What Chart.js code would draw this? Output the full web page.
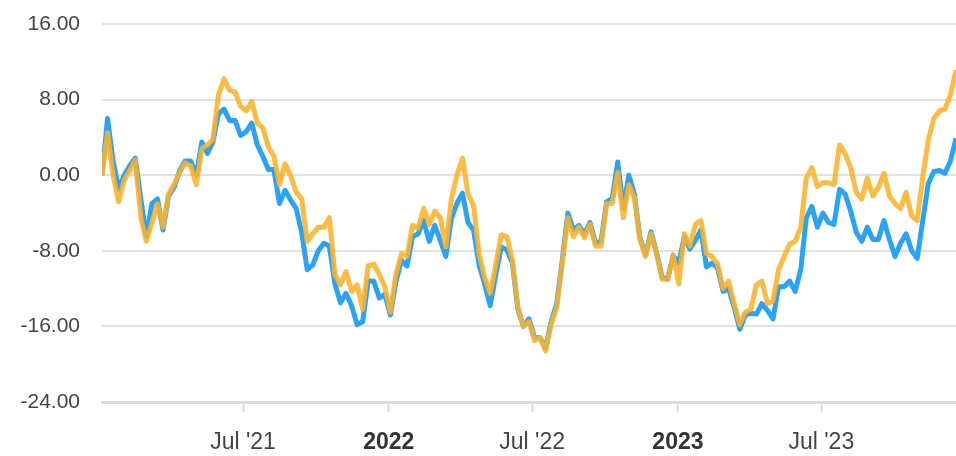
<!DOCTYPE html>
<html>
<head>
<meta charset="utf-8">
<script src="https://cdn.jsdelivr.net/npm/chart.js@4.4.1/dist/chart.umd.min.js"></script>
<style>
  html, body { margin: 0; padding: 0; background: #fff; }
  #wrap { width: 956px; height: 456px; position: relative; }
</style>
</head>
<body>
<div id="wrap"><canvas id="chart"></canvas></div>
<script>
// Weekly points, first Monday of 2021 up to mid-December 2023
const startDate = '2021-01-04';
const weekCount = 155;

// Series values
const blueValues = [
  0, 6.0, 1.5, -1.5, 0, 1, 1.8, -2.5, -6.5, -3,
  -2.5, -5.8, -2.2, -1.3, 0.5, 1.5, 1.5, 0, 3.5, 2.3,
  3.5, 6.5, 7.0, 5.8, 5.8, 4.2, 4.6, 5.5, 3.2, 2,
  0.6, 0.6, -3, -1.6, -2.6, -3.5, -6, -10, -9.5, -8,
  -7.2, -7.5, -11.5, -13.5, -12.5, -13.8, -15.8, -15.5, -11.2, -11.2,
  -13, -12.6, -14.8, -11.3, -9, -9.6, -6.5, -6.2, -4.8, -7,
  -5.3, -6.9, -8.6, -4.6, -3, -1.9, -5, -5.8, -9.5, -11.5,
  -13.8, -10.6, -7.6, -7.9, -9.3, -14.2, -16, -15.2, -17.2, -17.2,
  -18.3, -15.5, -13.6, -9, -4, -5.8, -5.3, -6.2, -5, -7.2,
  -7, -2.8, -2.5, 1.4, -3.5, 0, -2, -6.6, -8.4, -6,
  -8.2, -10.8, -11, -8.5, -9.3, -6.5, -7.8, -6.9, -5.8, -9.7,
  -9.3, -9.8, -12.3, -12, -14, -16.3, -14.8, -14.6, -14.7, -13.6,
  -14.3, -15.2, -11.8, -11.8, -11.2, -12.3, -10, -4.5, -3.3, -5.5,
  -4, -5, -5.2, -1.5, -2, -3.8, -6, -7, -5.5, -6.8,
  -6.8, -4.8, -6.8, -8.6, -7.2, -6.2, -8, -8.8, -4.8, -0.9,
  0.4, 0.5, 0.2, 1.5, 3.9
];

const orangeValues = [
  0, 4.5, 0, -2.8, -0.5, 0.5, 1.6, -4.5, -7.0, -5,
  -3, -5.5, -2, -1, 0.3, 1.3, 1.0, -1, 2.8, 3.2,
  3.8, 8.5, 10.2, 9.0, 8.8, 7.3, 6.8, 7.8, 5.5, 5,
  3, 2, -1, 1.2, 0, -1.8, -2.5, -7, -6.2, -5.5,
  -5.5, -4.5, -10.5, -11.6, -10.2, -12.3, -11.6, -14.2, -9.6, -9.4,
  -10.5, -11.8, -14.5, -10.5, -8.3, -8.6, -5.3, -5.6, -3.5, -5.2,
  -3.8, -4.5, -7.6, -2.5, 0, 1.8, -2, -3.2, -8.3, -10.8,
  -12.5, -9.5, -6.3, -6.5, -9, -14, -16, -15.5, -17.5, -17.2,
  -18.6, -15.7, -14, -9.3, -4.5, -6.5, -5.5, -6.6, -5.2, -7.5,
  -7.5, -3, -3, 0.3, -4.5, -1, -2.4, -6.8, -8.6, -6.2,
  -8.3, -11, -11, -8.4, -11.5, -6.2, -7.5, -5.2, -4.8, -8.3,
  -8.6, -9.4, -12, -11.2, -13.6, -15.8, -14.5, -14.2, -11.6, -11.2,
  -13.6, -13.3, -10, -8.6, -7.3, -7, -5.5, -0.3, 0.8, -1.2,
  -0.8, -0.8, -1, 3.2, 2.3, 0.8, -1.8, -2.5, -0.3, -2.2,
  -1.3, 0.2, -2.2, -3, -3.5, -1.8, -4.3, -4.8, -0.2, 3.7,
  6, 6.8, 7, 8.5, 11.1
];

// Axis ticks
const tickDates = ['2021-07-01', '2022-01-01', '2022-07-01', '2023-01-01', '2023-07-01'];
const tickLabels = ["Jul '21", '2022', "Jul '22", '2023', "Jul '23"];
const boldTicks = ['2022', '2023'];
const yTicks = [-24, -16, -8, 0, 8, 16];

const DAY = 86400000;
const toTime = s => Date.parse(s + 'T00:00:00Z');

const weekDates = [];
for (let i = 0; i < weekCount; i++) {
    weekDates.push(toTime(startDate) + i * 7 * DAY);
}

const bluePoints = weekDates.map((t, i) => ({ x: t, y: blueValues[i] }));
const orangePoints = weekDates.map((t, i) => ({ x: t, y: orangeValues[i] }));
const tickTimes = tickDates.map(toTime);

const fontFamily = "'Liberation Sans', Arial, sans-serif";

new Chart(document.getElementById('chart'), {
    type: 'line',
    data: {
        datasets: [
            {
                data: bluePoints,
                borderColor: '#29a3f5',
                borderWidth: 5,
                pointRadius: 0,
                tension: 0,
                borderJoinStyle: 'round',
                order: 1 // drawn underneath the orange line
            },
            {
                data: orangePoints,
                borderColor: 'rgba(253, 178, 40, 0.88)',
                borderWidth: 5,
                pointRadius: 0,
                tension: 0,
                borderJoinStyle: 'round',
                order: 0
            }
        ]
    },
    options: {
        responsive: true,
        maintainAspectRatio: false,
        animation: false,
        layout: { padding: { top: 24, right: 0, left: 0, bottom: 0 } },
        plugins: {
            legend: { display: false },
            tooltip: { enabled: false }
        },
        scales: {
            x: {
                type: 'linear',
                min: weekDates[0],
                max: weekDates[weekDates.length - 1],
                afterBuildTicks: scale => {
                    scale.ticks = tickTimes.map(v => ({ value: v }));
                },
                afterFit: scale => {
                    scale.height = 54;
                    scale.paddingLeft = 0;
                    scale.paddingRight = 0;
                },
                grid: {
                    drawOnChartArea: false,
                    drawTicks: true,
                    tickLength: 10,
                    tickColor: '#dcdcdc',
                    tickWidth: 2
                },
                border: { display: true, color: '#dcdcdc', width: 3 },
                ticks: {
                    autoSkip: false,
                    maxRotation: 0,
                    padding: 17,
                    color: ctx => boldTicks.includes(tickLabels[ctx.index]) ? '#333' : '#444',
                    font: ctx => ({
                        family: fontFamily,
                        size: 23,
                        weight: boldTicks.includes(tickLabels[ctx.index]) ? 'bold' : 'normal'
                    }),
                    callback: (value, index) => tickLabels[index]
                }
            },
            y: {
                min: -24,
                max: 16,
                afterBuildTicks: scale => {
                    scale.ticks = yTicks.map(v => ({ value: v }));
                },
                afterFit: scale => {
                    scale.width = 102;
                    scale.paddingTop = 0;
                    scale.paddingBottom = 0;
                },
                grid: {
                    color: '#e2e2e2',
                    lineWidth: 2,
                    drawTicks: false
                },
                border: { display: false },
                ticks: {
                    padding: 22,
                    color: '#444',
                    font: { family: fontFamily, size: 21 },
                    callback: v => v.toFixed(2)
                }
            }
        }
    }
});
</script>
</body>
</html>
